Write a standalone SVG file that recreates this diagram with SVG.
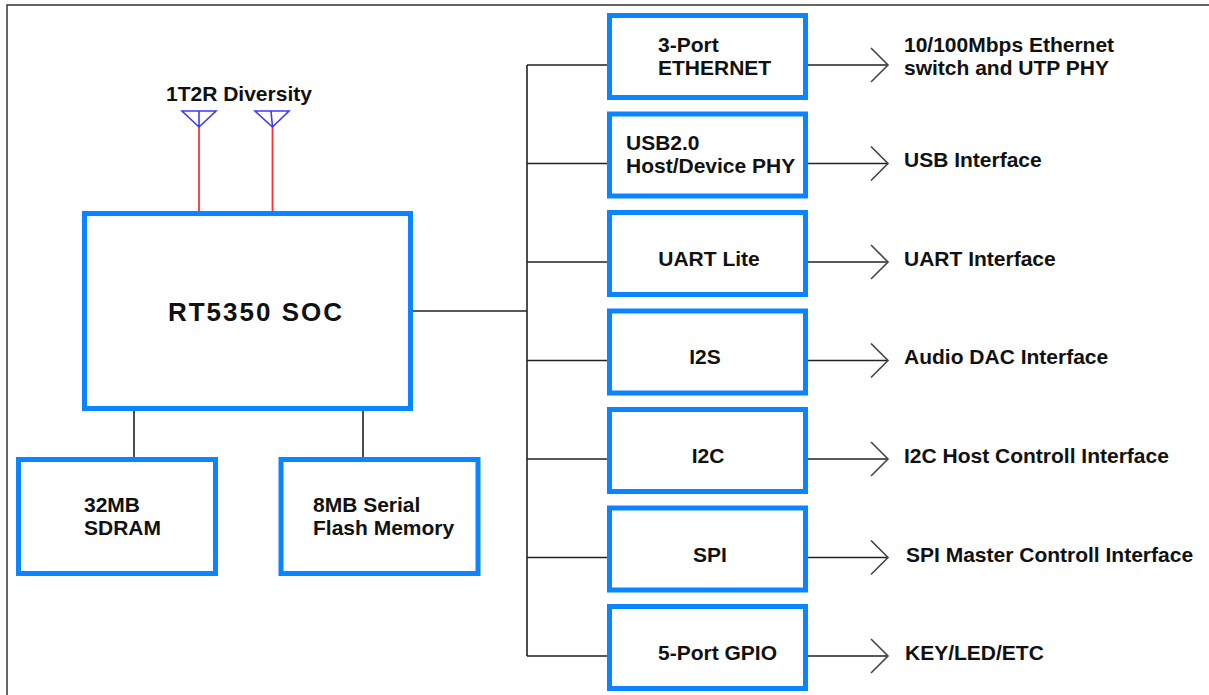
<svg xmlns="http://www.w3.org/2000/svg" width="1209" height="695" viewBox="0 0 1209 695">
<defs>
<style>
.box{fill:#fff;stroke:#0a84ff;stroke-width:5}
.t{font-family:"Liberation Sans",Arial,sans-serif;font-weight:bold;font-size:21px;fill:#111}
.ln{fill:none;stroke:#222;stroke-width:1.6}
.ant{fill:none;stroke:#3a3aff;stroke-width:1.6}
.feed{stroke:#ff3030;stroke-width:1.8}
</style>
<marker id="arr" viewBox="0 0 20 36" refX="18" refY="18" markerWidth="20" markerHeight="36" markerUnits="userSpaceOnUse" orient="auto">
<path d="M1,1 L18,18 L1,35" fill="none" stroke="#444" stroke-width="1.6"/>
</marker>
</defs>
<rect width="1209" height="695" fill="#fff"/>
<path d="M7,700 V5 H1215" fill="none" stroke="#333" stroke-width="1.5"/>

<g id="connectors">
<line class="feed" x1="199" y1="126" x2="199" y2="211"/>
<line class="feed" x1="272.5" y1="126" x2="272.5" y2="211"/>
<path class="ln" d="M413,311 H527 M527,65 V656"/>
<path class="ln" d="M527,65 H607 M527,163.5 H607 M527,262 H607 M527,360.5 H607 M527,459 H607 M527,557.5 H607 M527,656 H607"/>
<path class="ln" d="M134,411 V457 M363,411 V457"/>
<g class="ln" marker-end="url(#arr)">
<line x1="808" y1="65" x2="888" y2="65"/>
<line x1="808" y1="163.5" x2="888" y2="163.5"/>
<line x1="808" y1="262" x2="888" y2="262"/>
<line x1="808" y1="360.5" x2="888" y2="360.5"/>
<line x1="808" y1="459" x2="888" y2="459"/>
<line x1="808" y1="557.5" x2="888" y2="557.5"/>
<line x1="808" y1="656" x2="888" y2="656"/>
</g>
</g>

<g id="antenna">
<text class="t" x="166" y="101">1T2R Diversity</text>
<path class="ant" d="M182,111 H216 L199,127 Z M199,111 V127"/>
<path class="ant" d="M255,111 H289 L272.5,127 Z M271,111 L272.5,127"/>
</g>

<g id="soc">
<rect class="box" x="84.5" y="213.5" width="326" height="195"/>
<text class="t" x="256" y="321" text-anchor="middle" style="font-size:26px;letter-spacing:2px">RT5350 SOC</text>
</g>

<g id="sdram">
<rect class="box" x="18.5" y="459.5" width="197" height="114"/>
<text class="t" x="84" y="512">32MB</text>
<text class="t" x="84" y="535">SDRAM</text>
</g>

<g id="flash">
<rect class="box" x="281" y="459.5" width="197" height="114"/>
<text class="t" x="313" y="512">8MB Serial</text>
<text class="t" x="313" y="535">Flash Memory</text>
</g>

<g id="ethernet">
<rect class="box" x="609.5" y="15.5" width="196" height="82"/>
<text class="t" x="658" y="52">3-Port</text>
<text class="t" x="658" y="75">ETHERNET</text>
<text class="t" x="904" y="52">10/100Mbps Ethernet</text>
<text class="t" x="904" y="75">switch and UTP PHY</text>
</g>

<g id="usb">
<rect class="box" x="609.5" y="114" width="196" height="82"/>
<text class="t" x="626" y="150">USB2.0</text>
<text class="t" x="626" y="173">Host/Device PHY</text>
<text class="t" x="904" y="167">USB Interface</text>
</g>

<g id="uart">
<rect class="box" x="609.5" y="212.5" width="196" height="82"/>
<text class="t" x="709" y="266" text-anchor="middle">UART Lite</text>
<text class="t" x="904" y="266">UART Interface</text>
</g>

<g id="i2s">
<rect class="box" x="609.5" y="311" width="196" height="82"/>
<text class="t" x="705" y="364" text-anchor="middle">I2S</text>
<text class="t" x="904" y="364">Audio DAC Interface</text>
</g>

<g id="i2c">
<rect class="box" x="609.5" y="409.5" width="196" height="82"/>
<text class="t" x="708" y="463" text-anchor="middle">I2C</text>
<text class="t" x="904" y="463">I2C Host Controll Interface</text>
</g>

<g id="spi">
<rect class="box" x="609.5" y="508" width="196" height="82"/>
<text class="t" x="710" y="561.5" text-anchor="middle">SPI</text>
<text class="t" x="906" y="561.5">SPI Master Controll Interface</text>
</g>

<g id="gpio">
<rect class="box" x="609.5" y="606.5" width="196" height="82"/>
<text class="t" x="658" y="660">5-Port GPIO</text>
<text class="t" x="905" y="660">KEY/LED/ETC</text>
</g>
</svg>
